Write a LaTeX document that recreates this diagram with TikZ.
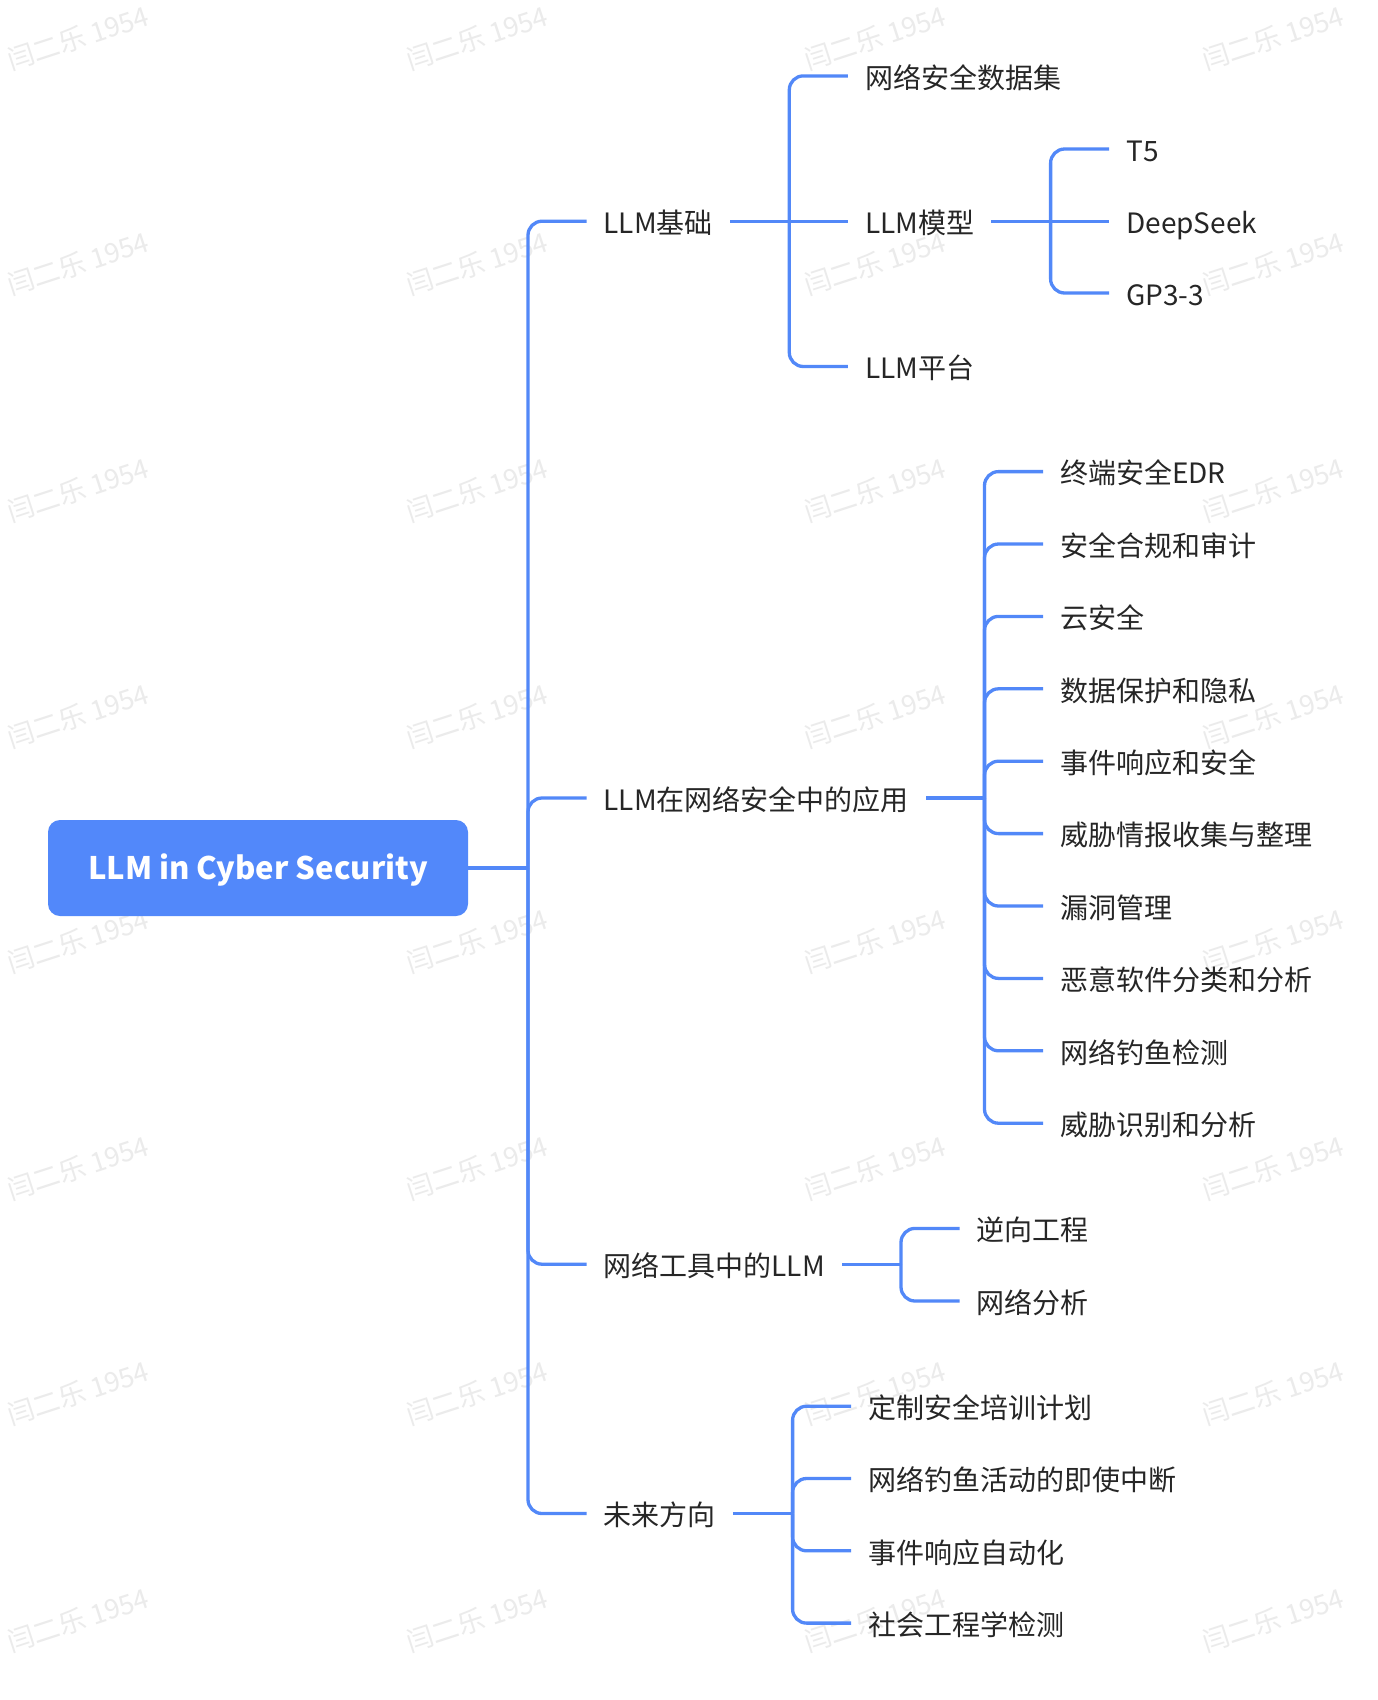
\documentclass[tikz,border=0pt]{standalone}
\usepackage{fontspec}
\setmainfont{Noto Sans CJK SC}
\definecolor{lineblue}{HTML}{5288F8}
\definecolor{rootblue}{HTML}{5288FA}
\definecolor{txtgray}{HTML}{262626}
\definecolor{wmgray}{HTML}{EBEBEB}
\tikzset{
  conn/.style={draw=lineblue, line width=3.3pt, rounded corners=14pt},
  lbl/.style={anchor=west, inner xsep=17pt, inner ysep=0pt, text=txtgray,
    font=\fontsize{28}{33}\selectfont, text height=26pt, text depth=1.4pt},
  rootbox/.style={fill=rootblue, rounded corners=12pt, minimum width=420pt,
    minimum height=96pt, text=white, font=\fontsize{31}{37}\selectfont\bfseries,
    text height=23pt, text depth=0pt},
  wmark/.style={text=wmgray, rotate=18, font=\fontsize{27}{30}\selectfont, inner sep=0pt}
}
\begin{document}
\begin{tikzpicture}[x=1pt, y=-1pt]
\useasboundingbox[fill=white] (0,0) rectangle (1378,1700);
% watermarks
\foreach \wx in {78,477,875,1273}{
  \foreach \wy in {38,263.5,490,715.6,941,1167.7,1393,1620}{
    \node[wmark] at (\wx,\wy) {闫二乐 1954};
  }
}
% root
\node[rootbox] (root) at (258,868) {LLM in Cyber Security};
\coordinate (trunk) at (528,868);
\draw[conn] (root.east) -- (trunk);
% level 1
\node[lbl] (l1a) at (586.5,221.2) {LLM基础};
\node[lbl] (l1b) at (586.5,798.0) {LLM在网络安全中的应用};
\node[lbl] (l1c) at (586.5,1264.2) {网络工具中的LLM};
\node[lbl] (l1d) at (586.5,1513.5) {未来方向};
\foreach \n in {l1a,l1b,l1c,l1d}{ \draw[conn] (trunk) |- (\n.west); }
% LLM基础
\coordinate (s1) at (789.3,221.2);
\node[lbl] (a1) at (847.8,75.9) {网络安全数据集};
\node[lbl] (a2) at (847.8,221.2) {LLM模型};
\node[lbl] (a3) at (847.8,366.5) {LLM平台};
\draw[conn] (l1a.east) -- (s1);
\draw[conn] (s1) |- (a1.west);
\draw[conn] (s1) -- (a2.west);
\draw[conn] (s1) |- (a3.west);
% LLM模型
\coordinate (s2) at (1050.6,221.2);
\node[lbl] (m1) at (1109.1,149) {T5};
\node[lbl] (m2) at (1109.1,221.2) {DeepSeek};
\node[lbl] (m3) at (1109.1,293) {GP3-3};
\draw[conn] (a2.east) -- (s2);
\draw[conn] (s2) |- (m1.west);
\draw[conn] (s2) -- (m2.west);
\draw[conn] (s2) |- (m3.west);
% 应用
\coordinate (s3) at (984.5,798.0);
\draw[conn] (l1b.east) -- (s3);
\foreach \t [count=\i from 0] in {终端安全EDR,安全合规和审计,云安全,数据保护和隐私,事件响应和安全,威胁情报收集与整理,漏洞管理,恶意软件分类和分析,网络钓鱼检测,威胁识别和分析}{
  \node[lbl] (b\i) at (1043,471.6+72.4*\i) {\t};
  \draw[conn] (s3) |- (b\i.west);
}
% 工具
\coordinate (s4) at (901.0,1264.2);
\node[lbl] (c1) at (959.5,1228.4) {逆向工程};
\node[lbl] (c2) at (959.5,1301.0) {网络分析};
\draw[conn] (l1c.east) -- (s4);
\draw[conn] (s4) |- (c1.west);
\draw[conn] (s4) |- (c2.west);
% 未来方向
\coordinate (s5) at (792.6,1513.5);
\draw[conn] (l1d.east) -- (s5);
\foreach \t [count=\i from 0] in {定制安全培训计划,网络钓鱼活动的即使中断,事件响应自动化,社会工程学检测}{
  \node[lbl] (d\i) at (851.1,1406.2+72.3*\i) {\t};
  \draw[conn] (s5) |- (d\i.west);
}
\end{tikzpicture}
\end{document}
